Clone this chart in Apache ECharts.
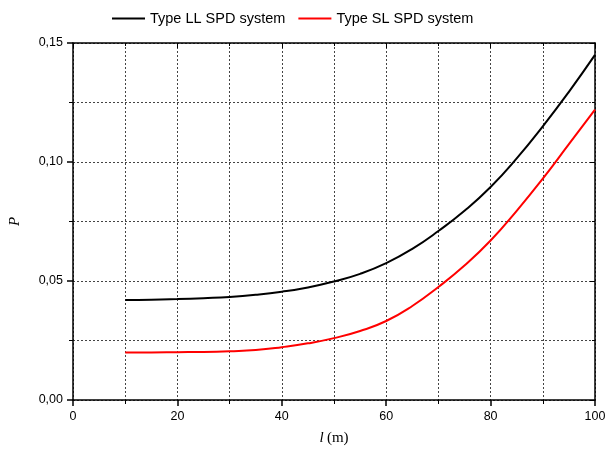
<!DOCTYPE html>
<html>
<head>
<meta charset="utf-8">
<script src="https://cdn.jsdelivr.net/npm/echarts@6/dist/echarts.min.js"></script>
<style>
  html, body { margin: 0; padding: 0; background: #fff; }
  #chart { width: 606px; height: 451px; }
</style>
</head>
<body>
<div id="chart"></div>
<script>
// lengths l (m)
const lengths = [10, 15, 20, 25, 30, 35, 40, 45, 50, 55, 60, 65, 70, 75, 80, 85, 90, 95, 100]
// probability P
const typeLL = [0.0420, 0.0421, 0.0424, 0.0428, 0.0433, 0.0442, 0.0455, 0.0473, 0.0498, 0.0530, 0.0575,
  0.0635, 0.0710, 0.0795, 0.0895, 0.1015, 0.1150, 0.1295, 0.1450]
const typeSL = [0.0200, 0.0200, 0.0201, 0.0202, 0.0205, 0.0210, 0.0222, 0.0238, 0.0260, 0.0290, 0.0332,
  0.0395, 0.0475, 0.0565, 0.0670, 0.0795, 0.0930, 0.1075, 0.1220]
const seriesNames = ['Type LL SPD system', 'Type SL SPD system']

const chart = echarts.init(document.getElementById('chart'))

const gridLine = { show: true, lineStyle: { color: '#444', type: [2, 2], width: 1 } }

const option = {
  animation: false,
  textStyle: { fontFamily: 'Liberation Sans, Arial, sans-serif' },
  legend: {
    data: seriesNames,
    top: 6,
    left: 107,
    itemWidth: 33,
    itemHeight: 2,
    itemGap: 13,
    icon: 'rect',
    textStyle: { fontSize: 14.5, color: '#000', fontFamily: 'Liberation Sans, Arial' },
  },
  grid: { left: 73, right: 11, top: 43, bottom: 51, containLabel: false, outerBoundsMode: 'none' },
  xAxis: [
    {
      type: 'value',
      min: 0,
      max: 100,
      interval: 20,
      name: '{i|l} {n|(m)}',
      nameLocation: 'middle',
      nameGap: 31,
      nameTextStyle: {
        rich: {
          i: { fontFamily: 'Liberation Serif, Times New Roman', fontStyle: 'italic', fontSize: 15, color: '#000' },
          n: { fontFamily: 'Liberation Serif, Times New Roman', fontSize: 15, color: '#000' },
        },
      },
      axisLine: { show: true, onZero: false, lineStyle: { color: '#000', width: 1.5 } },
      axisTick: { show: true, length: 6, lineStyle: { color: '#000', width: 1.5 } },
      minorTick: { show: true, splitNumber: 2, length: 4, lineStyle: { color: '#000', width: 1 } },
      axisLabel: { fontSize: 12.5, color: '#000', margin: 10 },
      splitLine: gridLine,
      minorSplitLine: gridLine,
    },
    {
      type: 'value',
      position: 'top',
      min: 0,
      max: 100,
      interval: 20,
      axisLine: { show: true, onZero: false, lineStyle: { color: '#000', width: 1.5 } },
      axisTick: { show: true, inside: true, length: 5, lineStyle: { color: '#000' } },
      minorTick: { show: true, splitNumber: 2, length: 3, lineStyle: { color: '#000' } },
      axisLabel: { show: false },
      splitLine: { show: false },
    },
  ],
  yAxis: [
    {
      type: 'value',
      min: 0,
      max: 0.15,
      interval: 0.05,
      name: 'P',
      nameLocation: 'middle',
      nameGap: 50,
      nameTextStyle: { fontFamily: 'Liberation Serif, Times New Roman', fontStyle: 'italic', fontSize: 15, color: '#000' },
      axisLine: { show: true, onZero: false, lineStyle: { color: '#000', width: 1.5 } },
      axisTick: { show: true, length: 6, lineStyle: { color: '#000', width: 1.5 } },
      minorTick: { show: true, splitNumber: 2, length: 4, lineStyle: { color: '#000', width: 1 } },
      axisLabel: {
        fontSize: 12.5,
        color: '#000',
        margin: 10,
        formatter: (v) => v.toFixed(2).replace('.', ','),
      },
      splitLine: gridLine,
      minorSplitLine: gridLine,
    },
    {
      type: 'value',
      position: 'right',
      min: 0,
      max: 0.15,
      interval: 0.05,
      axisLine: { show: true, onZero: false, lineStyle: { color: '#000', width: 1.5 } },
      axisTick: { show: true, inside: true, length: 5, lineStyle: { color: '#000' } },
      minorTick: { show: true, splitNumber: 2, length: 3, lineStyle: { color: '#000' } },
      axisLabel: { show: false },
      splitLine: { show: false },
    },
  ],
  series: [
    {
      name: seriesNames[0],
      type: 'line',
      smooth: true,
      showSymbol: false,
      color: '#000',
      lineStyle: { width: 2, color: '#000' },
      data: lengths.map((l, i) => [l, typeLL[i]]),
    },
    {
      name: seriesNames[1],
      type: 'line',
      smooth: true,
      showSymbol: false,
      color: '#ff0000',
      lineStyle: { width: 2, color: '#ff0000' },
      data: lengths.map((l, i) => [l, typeSL[i]]),
    },
  ],
}

chart.setOption(option)
</script>
</body>
</html>
